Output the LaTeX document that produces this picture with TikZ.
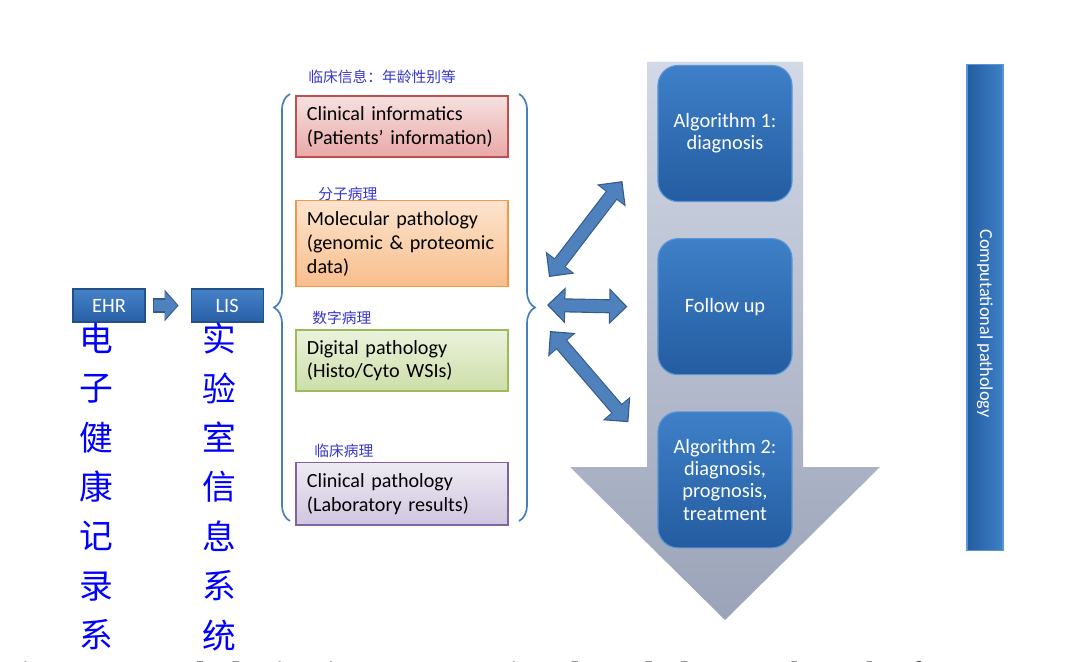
\documentclass[tikz,border=0pt]{standalone}
\usepackage{fontspec}
\setmainfont{Carlito}
\newfontfamily\cjk{Noto Sans CJK SC}
\newfontfamily\capfont{Liberation Serif}
\usetikzlibrary{
  arrows.meta,
  positioning,
  calc,
  decorations.pathreplacing
}
\definecolor{sysA}{RGB}{70,130,200}
\definecolor{sysB}{RGB}{40,95,165}
\definecolor{sysline}{RGB}{35,80,135}
\definecolor{clinline}{RGB}{192,80,77}
\definecolor{clinA}{RGB}{246,225,224}
\definecolor{clinB}{RGB}{232,168,166}
\definecolor{molecline}{RGB}{247,150,70}
\definecolor{molecA}{RGB}{252,228,206}
\definecolor{molecB}{RGB}{248,190,140}
\definecolor{digiline}{RGB}{155,187,89}
\definecolor{digiA}{RGB}{235,242,220}
\definecolor{digiB}{RGB}{205,222,168}
\definecolor{labline}{RGB}{128,100,162}
\definecolor{labA}{RGB}{238,234,243}
\definecolor{labB}{RGB}{208,198,224}
\definecolor{zhblue}{RGB}{55,55,205}
\definecolor{bracecol}{RGB}{74,126,187}
\definecolor{flowA}{RGB}{210,216,230}
\definecolor{flowB}{RGB}{155,163,184}
\definecolor{algoA}{RGB}{62,128,200}
\definecolor{algoB}{RGB}{36,92,160}
\definecolor{algoline}{RGB}{90,150,215}
\definecolor{linkfill}{RGB}{79,129,189}
\definecolor{linkline}{RGB}{50,90,140}

\begin{document}
\begin{tikzpicture}[x=0.025cm, y=-0.025cm, node distance=1.05cm,
  sysbox/.style={draw=sysline, line width=0.8pt, top color=sysA, bottom color=sysB,
    minimum width=1.8cm, minimum height=0.825cm, text=white, font=\fontsize{14.5}{16}\selectfont},
  infobox/.style={draw, line width=1.1pt, minimum width=5.3cm, text width=4.75cm,
    inner xsep=0.28cm, inner ysep=0.15cm, align=left, text=black, font=\fontsize{14.3}{17}\selectfont},
  zhlabel/.style={anchor=west, inner sep=0, text=zhblue, font=\cjk\fontsize{10.5}{12}\selectfont},
  zhcol/.style={anchor=north, inner sep=0, align=center, text=blue, font=\cjk\fontsize{24}{35.1}\selectfont},
  curly/.style={draw=bracecol, line width=1.2pt, decorate, decoration={brace, amplitude=0.4cm}},
  algobox/.style={draw=algoline, line width=0.8pt, rounded corners=0.5cm, top color=algoA, bottom color=algoB,
    minimum width=3.35cm, minimum height=3.4cm, text=white, align=center, font=\fontsize{14.5}{15.8}\selectfont},
  cpbar/.style={draw=algoline, line width=0.8pt, left color=algoB, right color=algoA,
    minimum width=12.125cm, minimum height=0.9cm, text=white, font=\fontsize{13}{15}\selectfont},
  feedout/.style={line width=10pt, linkline, -{Triangle[length=10pt,width=22pt]}},
  feedin/.style={line width=8.4pt, linkfill, -{Triangle[length=8.6pt,width=18.8pt]}},
  linkout/.style={line width=10pt, linkline, {Triangle[length=13pt,width=25pt]}-{Triangle[length=13pt,width=25pt]}},
  linkin/.style={line width=8.4pt, linkfill, {Triangle[length=11pt,width=21.5pt]}-{Triangle[length=11pt,width=21.5pt]},
    shorten <=1.3pt, shorten >=1.3pt}
]
\useasboundingbox (0,0) rectangle (1073,662);
\clip (0,0) rectangle (1073,662);
\fill[white] (0,0) rectangle (1073,662);

% EHR and LIS
\node[sysbox] (ehr) at (109,305.5) {EHR};
\node[sysbox, right=1.125cm of ehr] (lis) {LIS};
\draw[feedout, shorten <=5pt, shorten >=8.5pt] (ehr) -- (lis);
\draw[feedin, shorten <=6pt, shorten >=9.5pt] (ehr) -- (lis);
\node[zhcol] (ehrzh) at (96,323) {电\\子\\健\\康\\记\\录\\系};
\node[zhcol] (liszh) at (219,323) {实\\验\\室\\信\\息\\系\\统};

% data sources
\node[infobox, draw=clinline, top color=clinA, bottom color=clinB, minimum height=1.525cm] (clin) at (402,126.5)
  {Clinical informatics\\(Patients’ information)};
\node[infobox, draw=molecline, top color=molecA, bottom color=molecB, minimum height=2.15cm, below=of clin] (molec)
  {Molecular pathology\\(genomic \& proteomic\\data)};
\node[infobox, draw=digiline, top color=digiA, bottom color=digiB, minimum height=1.525cm, below=of molec] (digi)
  {Digital pathology\\(Histo/Cyto WSIs)};
\node[infobox, draw=labline, top color=labA, bottom color=labB, minimum height=1.55cm, below=1.75cm of digi] (labres)
  {Clinical pathology\\(Laboratory results)};

\node[zhlabel] (zhclin) at (308,77) {临床信息：年龄性别等};
\node[zhlabel] (zhmolec) at (318,194) {分子病理};
\node[zhlabel] (zhdigi) at (312,318) {数字病理};
\node[zhlabel] (zhlab) at (314,451) {临床病理};

% braces
\coordinate (lbtop) at (290,94);
\coordinate (lbbot) at (290,521);
\coordinate (rbtop) at (519,94);
\coordinate (rbbot) at (519,521);
\draw[curly] (lbbot) -- (lbtop);
\draw[curly] (rbtop) -- (rbbot);

% big flow arrow
\path[top color=flowA, bottom color=flowB] (647,62) -- (803,62) -- (803,467) -- (880,467)
  -- (725,620) -- (570,467) -- (647,467) -- cycle;

\node[algobox] (algo1) at (725,133.5) {Algorithm 1:\\diagnosis};
\node[algobox, below=0.9cm of algo1] (follow) {Follow up};
\node[algobox, below=0.9cm of follow] (algo2) {Algorithm 2:\\diagnosis,\\prognosis,\\treatment};

% links between data and algorithms
\coordinate (l1a) at (549,277);
\coordinate (l1b) at ($(algo1.south west)+(-35,-21)$);
\coordinate (l2a) at (547,305);
\coordinate (l2b) at ($(follow.west)+(-30,0)$);
\coordinate (l3a) at (550,331);
\coordinate (l3b) at ($(algo2.north west)+(-29,11)$);
\draw[linkout] (l1a) -- (l1b);
\draw[linkin] (l1a) -- (l1b);
\draw[linkout] (l2a) -- (l2b);
\draw[linkin] (l2a) -- (l2b);
\draw[linkout] (l3a) -- (l3b);
\draw[linkin] (l3a) -- (l3b);

\node[cpbar, rotate=-90] (cpath) at (985,307.5) {\hspace{0.8cm}Computational pathology};

% caption cut off at the bottom
\node[anchor=north west, inner sep=0, font=\capfont\fontsize{24}{28}\selectfont] (caption) at (0,661.5)
  {\makebox[18.5cm][s]{\bfseries Figure 1 Pathologist in computational pathology}\hspace{0.7cm}Clinical informatics};
\end{tikzpicture}
\end{document}
